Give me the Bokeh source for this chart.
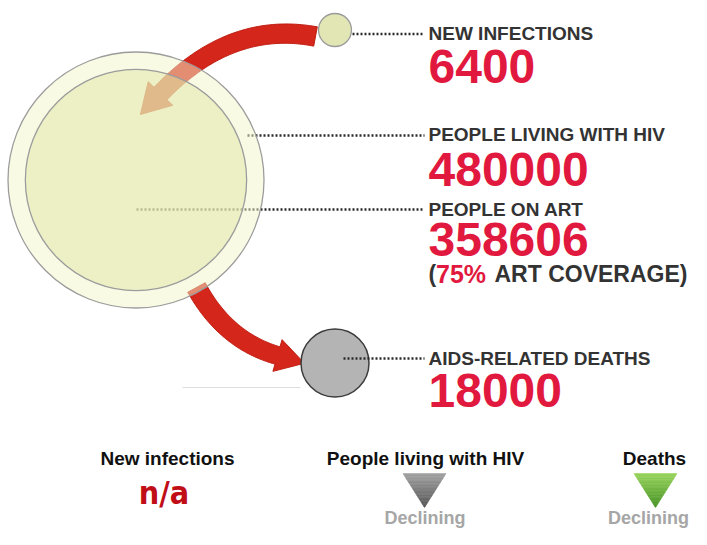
import numpy as np
from bokeh.plotting import figure
from bokeh.models import Range1d
from bokeh.core.properties import value
from bokeh.embed import file_html
from bokeh.resources import INLINE

# ---------------- data ----------------
stat_labels = ["NEW INFECTIONS", "PEOPLE LIVING WITH HIV", "PEOPLE ON ART", "AIDS-RELATED DEATHS"]
stat_values = [6400, 480000, 358606, 18000]
art_coverage_pct = 75
trend_titles = ["New infections", "People living with HIV", "Deaths"]
trend_status = ["n/a", "Declining", "Declining"]

# ---------------- layout / style ----------------
W, H = 691, 529
FONT = value("Liberation Sans")
RED_NUM = "#e2193e"
DARK = "#333333"
ARROW_RED = "#d4261a"

p = figure(width=W, height=H, x_range=Range1d(0, W), y_range=Range1d(H, 0),
           output_backend="svg", toolbar_location=None, min_border=0,
           x_axis_location=None, y_axis_location=None)
p.grid.visible = False
p.outline_line_color = None
p.background_fill_color = "white"
p.border_fill_color = "white"


def base(y, size):
    """baseline correction so that glyph baselines land on y"""
    return y - (1.8 + 0.328 * size)


def arrow_poly(p0, p1, p2, w0, w1, head_hw, head_len, n=80):
    t = np.linspace(0, 1, n)[:, None]
    P0, P1, P2 = (np.array(v, dtype=float) for v in (p0, p1, p2))
    pts = (1 - t) ** 2 * P0 + 2 * (1 - t) * t * P1 + t ** 2 * P2
    d = 2 * (1 - t) * (P1 - P0) + 2 * t * (P2 - P1)
    d = d / np.linalg.norm(d, axis=1, keepdims=True)
    nrm = np.column_stack([-d[:, 1], d[:, 0]])
    w = w0 + (w1 - w0) * t
    left = pts + nrm * w
    right = pts - nrm * w
    end, de, ne = pts[-1], d[-1], nrm[-1]
    poly = np.vstack([left, end + ne * head_hw, end + de * head_len, end - ne * head_hw, right[::-1]])
    return list(poly[:, 0]), list(poly[:, 1])


# faint base line of the lower arrow image
p.segment(x0=[182], y0=[387], x1=[300], y1=[387], line_color="#dedede", line_width=1)

# red arrows (drawn beneath the translucent circles)
ax1, ay1 = arrow_poly((315, 36), (230, 20), (160, 93), 9.8, 9.0, 17, 29)
ax2, ay2 = arrow_poly((196, 287), (225, 340), (277, 355), 10.0, 9.0, 16.5, 28)
p.patches(xs=[ax1, ax2], ys=[ay1, ay2], fill_color=ARROW_RED, line_color="#bf1d12", line_width=1)

# leader lines for circles that are underneath the translucent circles
lead_x0 = [352, 247, 136, 343]
lead_y = [33.5, 135, 209, 358]
LEAD_X1 = 424
p.segment(x0=lead_x0[1:3], y0=lead_y[1:3], x1=[LEAD_X1] * 2, y1=lead_y[1:3],
          line_color="#2b2b2b", line_width=2.5, line_dash="2 2")

# big circles: people living with HIV, people on ART (area-scaled)
cx_big, cy_big = 135.5, 179.5
r_plhiv = 128.0
r_art = r_plhiv * np.sqrt(stat_values[2] / stat_values[1])
p.circle(x=[cx_big], y=[cy_big], radius=[r_plhiv], fill_color="#f1f5c9", fill_alpha=0.5,
         line_color="#9c9c9c", line_width=1.3)
p.circle(x=[cx_big], y=[cy_big], radius=[r_art], fill_color="#e0e6a4", fill_alpha=0.5,
         line_color="#9c9c9c", line_width=1.3)

# new infections circle
p.circle(x=[334.5], y=[29.5], radius=[16.5], fill_color="#e1e6b4", line_color="#9a9a9a", line_width=1.3)
# deaths circle
p.circle(x=[334.5], y=[362.5], radius=[34], fill_color="#b4b4b4", line_color="#3c3c3c", line_width=1.5)

# leaders on top
p.segment(x0=[lead_x0[0], lead_x0[3]], y0=[lead_y[0], lead_y[3]], x1=[LEAD_X1] * 2,
          y1=[lead_y[0], lead_y[3]], line_color="#2b2b2b", line_width=2.5, line_dash="2 2")

# labels and numbers
TX = 428
label_base = [41.5, 142, 217, 366]
num_base = [84, 187, 257, 408]
p.text(x=[TX] * 4, y=[base(v, 19) for v in label_base], text=stat_labels, text_font=FONT,
       text_font_size="19px", text_font_style="bold", text_color=DARK,
       text_baseline="alphabetic", text_align="left")
p.text(x=[TX] * 4, y=[base(v, 48) for v in num_base], text=[str(v) for v in stat_values],
       text_font=FONT, text_font_size="48px", text_font_style="bold", text_color=RED_NUM,
       text_baseline="alphabetic", text_align="left")

# (75% ART COVERAGE)
cov_y = 283
p.text(x=[TX, 494], y=[base(cov_y, 23)] * 2, text=["(", "ART COVERAGE)"], text_font=FONT,
       text_font_size="23px", text_font_style="bold", text_color=DARK, text_baseline="alphabetic")
p.text(x=[435.5], y=[base(cov_y, 25)], text=[f"{art_coverage_pct}%"], text_font=FONT,
       text_font_size="25px", text_font_style="bold", text_color=RED_NUM, text_baseline="alphabetic")

# ---------------- bottom trend row ----------------
title_x = [167, 425, 654]
p.text(x=title_x, y=[base(466, 19)] * 3, text=trend_titles, text_font=FONT, text_font_size="19px",
       text_font_style="bold", text_color="#111111", text_baseline="alphabetic", text_align="center")

# n/a
p.text(x=[163.5], y=[base(505, 32)], text=[trend_status[0]],
       text_font=value("Liberation Sans Narrow, DejaVu Sans Condensed, sans-serif"),
       text_font_size="32px", text_font_style="bold", text_color="#c00d16",
       text_baseline="alphabetic", text_align="center")


def tri_strips(cx, top, apex, hw, c_top, c_bot, n=24):
    xs, ys, cols = [], [], []
    edges = np.linspace(top, apex, n + 1)
    for i in range(n):
        ya, yb = edges[i], edges[i + 1]
        wa = hw * (apex - ya) / (apex - top)
        wb = hw * (apex - yb) / (apex - top)
        xs.append([cx - wa, cx + wa, cx + wb, cx - wb])
        ys.append([ya, ya, yb, yb])
        f = i / (n - 1)
        c = tuple(int(round(c_top[k] + (c_bot[k] - c_top[k]) * f)) for k in range(3))
        cols.append("#%02x%02x%02x" % c)
    return xs, ys, cols


gx, gy, gc = tri_strips(424, 473, 507, 21.5, (162, 162, 162), (88, 88, 88))
p.patches(xs=gx, ys=gy, fill_color=gc, line_color=gc, line_width=0.6)
vx, vy, vc = tri_strips(655, 473, 507, 21.5, (152, 212, 92), (72, 148, 38))
p.patches(xs=vx, ys=vy, fill_color=vc, line_color=vc, line_width=0.6)

p.text(x=[424.5, 648], y=[base(525, 18)] * 2, text=trend_status[1:], text_font=FONT,
       text_font_size="18px", text_font_style="bold", text_color="#a6a6a6",
       text_baseline="alphabetic", text_align="center")

open("out.html", "w").write(file_html(p, INLINE))
